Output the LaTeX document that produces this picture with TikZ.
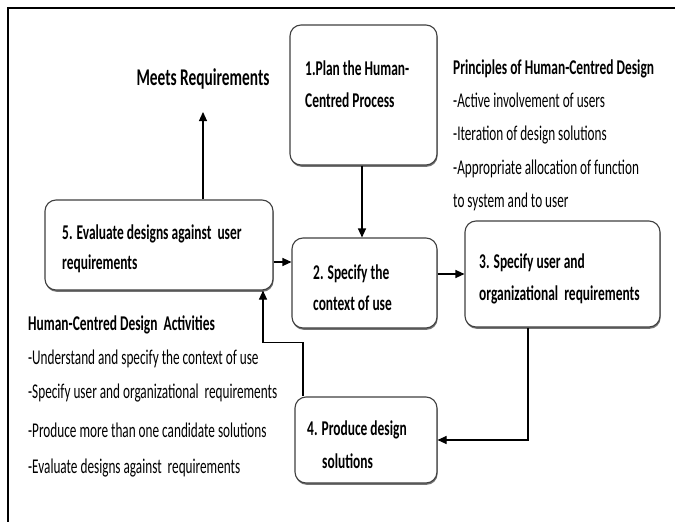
\documentclass[tikz,border=0pt]{standalone}
\usepackage{fontspec}
\setmainfont[FakeStretch=0.63]{Carlito}
\newfontfamily\condbold[FakeStretch=0.64]{Carlito}
\usetikzlibrary{arrows.meta,shadows}
\begin{document}
\begin{tikzpicture}[x=1pt,y=-1pt,
  box/.style={draw=black!75,line width=1.1pt,rounded corners=11pt,fill=white,
    drop shadow={shadow xshift=0.6pt,shadow yshift=-1.8pt,fill=black!55,opacity=1},
    inner sep=0pt},
  arr/.style={line width=1.1pt,-{Triangle[length=9pt,width=8pt]}},
  boxtxt/.style={anchor=base west,inner sep=0pt,font=\fontsize{21}{24}\condbold\bfseries},
  head/.style={anchor=base west,inner sep=0pt,font=\fontsize{21}{24}\condbold\bfseries},
  item/.style={anchor=base west,inner sep=0pt,font=\fontsize{21}{24}\selectfont}]
\useasboundingbox (0,0) rectangle (675,522);
\fill[white] (0,0) rectangle (675,522);
% outer frame: top and left edges only
\draw[line width=1.7pt] (8,522) -- (8,8) -- (675,8);

% process boxes
\node[box,minimum width=147pt,minimum height=140pt] (b1) at (363.5,95) {};
\node[box,minimum width=145pt,minimum height=90pt]  (b2) at (364.5,283) {};
\node[box,minimum width=195pt,minimum height=106pt] (b3) at (562.5,274) {};
\node[box,minimum width=142pt,minimum height=86pt]  (b4) at (366,440) {};
\node[box,minimum width=228pt,minimum height=90pt]  (b5) at (159,245) {};

% box labels
\node[boxtxt] (t1a) at (305,75) {1.Plan the Human-};
\node[boxtxt] (t1b) at (305,107) {Centred Process};
\node[boxtxt] (t2a) at (313,279) {2. Specify the};
\node[boxtxt] (t2b) at (313,310) {context of use};
\node[boxtxt] (t3a) at (479,268) {3. Specify user and};
\node[boxtxt] (t3b) at (479,300) {organizational\ \ requirements};
\node[boxtxt] (t4a) at (307,435) {4. Produce design};
\node[boxtxt] (t4b) at (322,468) {solutions};
\node[boxtxt] (t5a) at (62,239) {5. Evaluate designs against\ \ user};
\node[boxtxt] (t5b) at (62,269) {requirements};

% outcome
\node[anchor=base,inner sep=0pt,font=\fontsize{24}{28}\condbold\bfseries] (meets) at (203,85) {Meets Requirements};

% principles
\node[head] (p0) at (453,74) {Principles of Human-Centred Design};
\node[item] (p1) at (453,107) {-Active involvement of users};
\node[item] (p2) at (453,140) {-Iteration of design solutions};
\node[item] (p3) at (453,174) {-Appropriate allocation of function};
\node[item] (p4) at (453,207) {to system and to user};

% activities
\node[head] (a0) at (28,330) {Human-Centred Design\ \ Activities};
\node[item] (a1) at (28,364) {-Understand and specify the context of use};
\node[item] (a2) at (28,398) {-Specify user and organizational\ \ requirements};
\node[item] (a3) at (28,437) {-Produce more than one candidate solutions};
\node[item] (a4) at (28,473) {-Evaluate designs against\ \ requirements};

% connectors
\draw[arr] ([xshift=-1.5pt]b1.south) -- ([xshift=-2.5pt]b2.north);
\draw[arr] ([yshift=-17pt]b5.east) -- ([yshift=-17pt]b5.east -| b2.west);
\draw[arr] (b3.west -| b2.east) -- (b3.west);
\draw[arr] ([xshift=-34.5pt]b3.south) |- (b4.east);
\draw[arr] ([xshift=-63pt]b4.north) -- ++(0,-54) -| ([xshift=104pt]b5.south);
\draw[arr] ([xshift=44pt]b5.north) -- (203,112);
\end{tikzpicture}
\end{document}
